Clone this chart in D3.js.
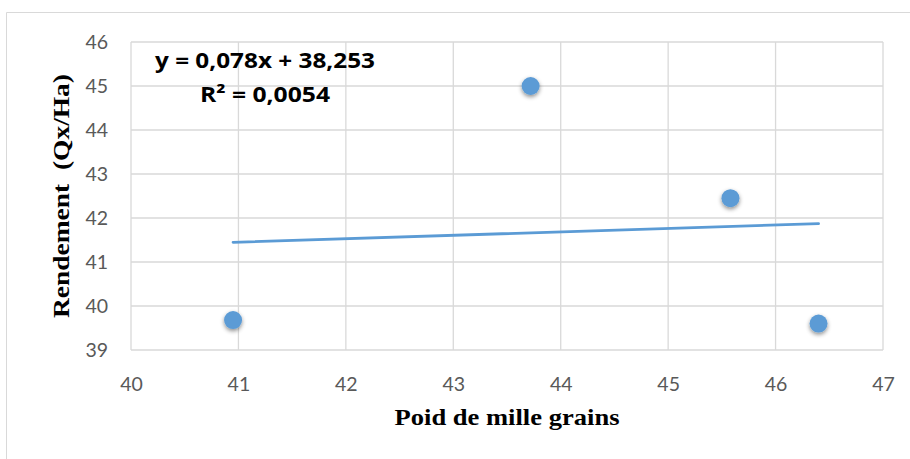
<!DOCTYPE html>
<html><head><meta charset="utf-8">
<script src="https://cdn.jsdelivr.net/npm/d3@7"></script>
<style>body{margin:0;background:#fff}svg{display:block}</style>
</head><body>
<svg id="c" width="910" height="459"></svg>
<script>
const xValues = [40.95, 43.72, 45.58, 46.4];
const yValues = [39.68, 45.0, 42.45, 39.6];
const xTicks = [40, 41, 42, 43, 44, 45, 46, 47];
const yTicks = [39, 40, 41, 42, 43, 44, 45, 46];
const trendSlope = 0.078, trendIntercept = 38.253;
const equationText = "y = 0,078x + 38,253";
const r2Text = "R² = 0,0054";
const xTitle = "Poid de mille grains";
const yTitle = "Rendement  (Qx/Ha)";

const svg = d3.select("#c");
const x = d3.scaleLinear().domain([40, 47]).range([131, 883]);
const y = d3.scaleLinear().domain([39, 46]).range([350, 42]);

// outer border
svg.append("path").attr("d", "M6.5,459 V12.5 H910").attr("fill", "none").attr("stroke", "#d9d9d9").attr("stroke-width", 1);

const defs = svg.append("defs");
const f = defs.append("filter").attr("id", "sh").attr("x", "-50%").attr("y", "-50%").attr("width", "200%").attr("height", "200%");
f.append("feDropShadow").attr("dx", 0).attr("dy", 2).attr("stdDeviation", 2).attr("flood-color", "#000").attr("flood-opacity", 0.45);

// grid
svg.append("g").selectAll("line").data(xTicks).join("line")
  .attr("x1", d => x(d)).attr("x2", d => x(d)).attr("y1", y(46)).attr("y2", y(39))
  .attr("stroke", "#d9d9d9").attr("stroke-width", 1.3);
svg.append("g").selectAll("line").data(yTicks).join("line")
  .attr("y1", d => y(d)).attr("y2", d => y(d)).attr("x1", x(40)).attr("x2", x(47))
  .attr("stroke", "#d9d9d9").attr("stroke-width", 1.3);

// axes labels via d3 axes
const xAxis = svg.append("g").attr("transform", `translate(0,${y(39)})`)
  .call(d3.axisBottom(x).tickValues(xTicks).tickSize(0).tickPadding(27).tickFormat(d3.format("d")));
const yAxis = svg.append("g").attr("transform", `translate(${x(40)},0)`)
  .call(d3.axisLeft(y).tickValues(yTicks).tickSize(0).tickPadding(23).tickFormat(d3.format("d")));
[xAxis, yAxis].forEach(g => {
  g.select(".domain").remove();
  g.selectAll("text").attr("fill", "#595959").attr("font-family", "Lato, 'Open Sans', sans-serif").attr("font-size", 19.5);
});

// trendline
svg.append("line")
  .attr("x1", x(d3.min(xValues))).attr("y1", y(trendSlope * d3.min(xValues) + trendIntercept))
  .attr("x2", x(d3.max(xValues))).attr("y2", y(trendSlope * d3.max(xValues) + trendIntercept))
  .attr("stroke", "#5b9bd5").attr("stroke-width", 2.8).attr("stroke-linecap", "round");

// points
svg.append("g").selectAll("circle").data(xValues.map((v, i) => [v, yValues[i]])).join("circle")
  .attr("cx", d => x(d[0])).attr("cy", d => y(d[1])).attr("r", 9)
  .attr("fill", "#5b9bd5").attr("filter", "url(#sh)");

// equation
svg.append("text").attr("x", 265).attr("y", 68).attr("text-anchor", "middle")
  .attr("font-family", "'Open Sans', sans-serif").attr("font-weight", "bold").attr("font-size", 21.5)
  .attr("textLength", 220).attr("lengthAdjust", "spacingAndGlyphs")
  .text(equationText);
svg.append("text").attr("x", 265).attr("y", 102).attr("text-anchor", "middle")
  .attr("font-family", "'Open Sans', sans-serif").attr("font-weight", "bold").attr("font-size", 21.5)
  .attr("textLength", 130).attr("lengthAdjust", "spacingAndGlyphs")
  .text(r2Text);

// titles
svg.append("text").attr("x", 507).attr("y", 425).attr("text-anchor", "middle")
  .attr("font-family", "'Liberation Serif', 'Times New Roman', serif").attr("font-weight", "bold").attr("font-size", 23.5)
  .attr("textLength", 225).attr("lengthAdjust", "spacingAndGlyphs")
  .text(xTitle);
svg.append("text").attr("transform", "translate(69,196) rotate(-90)").attr("text-anchor", "middle")
  .attr("font-family", "'Liberation Serif', 'Times New Roman', serif").attr("font-weight", "bold").attr("font-size", 23.5)
  .attr("xml:space", "preserve").style("white-space", "pre")
  .attr("textLength", 244).attr("lengthAdjust", "spacingAndGlyphs")
  .text(yTitle);
</script>
</body></html>
